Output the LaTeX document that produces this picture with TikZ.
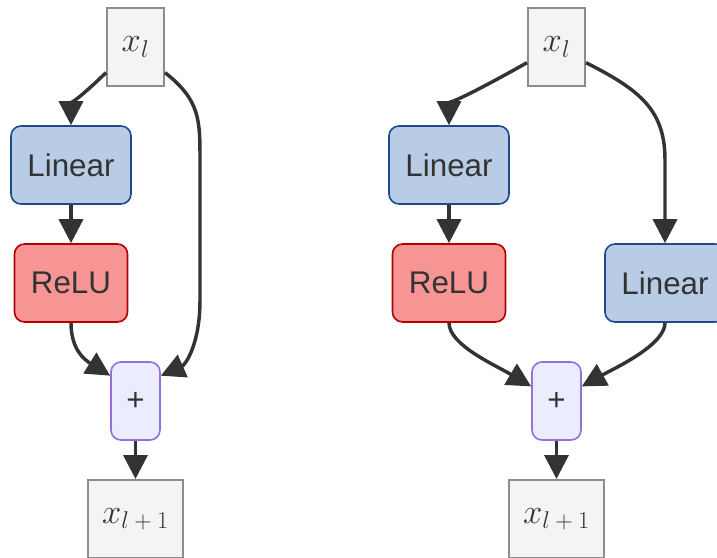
\RequirePackage{fix-cm}
\documentclass[tikz,border=0pt]{standalone}
\usepackage{fontspec}
\setsansfont{Liberation Sans}
\usetikzlibrary{arrows.meta}

\definecolor{edgegray}{RGB}{51,51,51}
\definecolor{linfill}{RGB}{184,205,229}
\definecolor{linline}{RGB}{30,74,140}
\definecolor{relufill}{RGB}{247,148,148}
\definecolor{reluline}{RGB}{178,0,0}
\definecolor{addfill}{RGB}{236,236,255}
\definecolor{addline}{RGB}{147,112,219}
\definecolor{xfill}{RGB}{244,244,242}
\definecolor{xline}{RGB}{140,140,140}

\begin{document}
\begin{tikzpicture}[x=0.75pt,y=-0.75pt,
    txt/.style={text=edgegray,font=\fontsize{23.5}{28}\selectfont},
    box/.style={txt,draw,line width=1.2pt,rounded corners=7.5pt,inner sep=0pt,minimum height=58.5pt},
    linbox/.style={box,fill=linfill,draw=linline,minimum width=90pt,font=\sffamily\fontsize{23.5}{28}\selectfont},
    relubox/.style={box,fill=relufill,draw=reluline,minimum width=84.75pt,font=\sffamily\fontsize{23.5}{28}\selectfont},
    addbox/.style={box,fill=addfill,draw=addline,minimum width=36.75pt,font=\sffamily\fontsize{23.5}{28}\selectfont},
    xbox/.style={txt,draw=xline,fill=xfill,line width=1.5pt,inner sep=0pt,minimum height=58.5pt,font=\fontsize{26}{30}\selectfont},
    flow/.style={draw=edgegray,line width=2.6pt,-{Triangle[length=18pt,width=18pt]}}]
    \useasboundingbox (0,0) rectangle (717,557);

    % plain residual block
    \node [xbox,minimum width=42.75pt] (xinL) at (135.5,47) {$x_l$};
    \node [linbox] (linL) at (71,165) {Linear};
    \node [relubox] (reluL) at (71,283) {ReLU};
    \node [addbox] (addL) at (135.5,401) {+};
    \node [xbox,minimum width=71.25pt] (xoutL) at (135.5,519) {$x_{l\mkern4mu+\mkern4mu1}$};

    \draw [flow] (xinL.221) .. controls (84,94) and (71,104) .. (linL.north);
    \draw [flow] (linL) -- (reluL);
    \draw [flow] (xinL.-41) .. controls (200,100) and (200,120) .. (200,160) -- (200,300) .. controls (200,345) and (185,365) .. (addL.45);
    \draw [flow] (reluL.south) .. controls (71,350) and (85,360) .. (addL.135);
    \draw [flow] (addL) -- (xoutL);

    % residual block with projection
    \node [xbox,minimum width=42.75pt] (xinR) at (556.5,47) {$x_l$};
    \node [linbox] (linR) at (449,165) {Linear};
    \node [relubox] (reluR) at (449,283) {ReLU};
    \node [linbox] (skipR) at (665,283) {Linear};
    \node [addbox] (addR) at (556.5,401) {+};
    \node [xbox,minimum width=71.25pt] (xoutR) at (556.5,519) {$x_{l\mkern4mu+\mkern4mu1}$};

    \draw [flow] (xinR.208) .. controls (475,92) and (449,104) .. (linR.north);
    \draw [flow] (linR) -- (reluR);
    \draw [flow] (xinR.-28) .. controls (640,90) and (665,110) .. (665,160) -- (skipR.north);
    \draw [flow] (reluR.south) .. controls (449,345) and (495,365) .. (addR.150);
    \draw [flow] (skipR.south) .. controls (665,345) and (615,368) .. (addR.30);
    \draw [flow] (addR) -- (xoutR);
\end{tikzpicture}
\end{document}
